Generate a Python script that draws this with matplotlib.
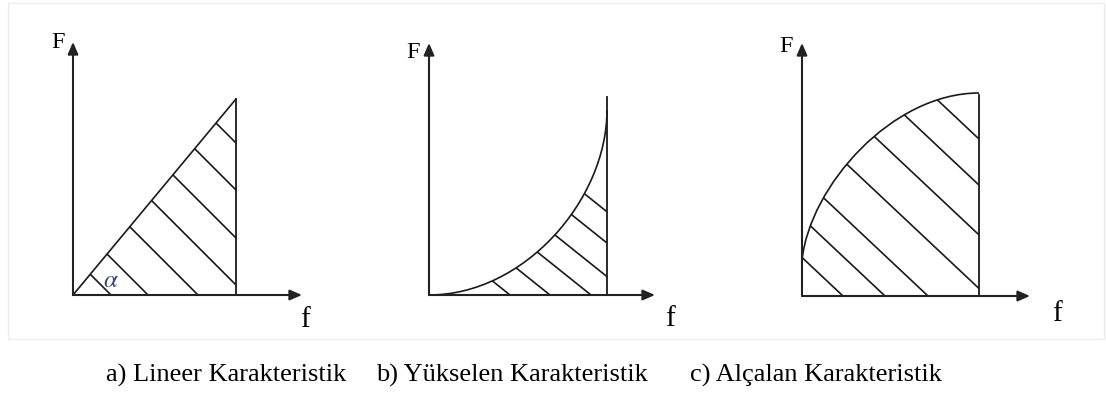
import numpy as np
import matplotlib.pyplot as plt
from matplotlib.patches import Rectangle, PathPatch
from matplotlib.path import Path

plt.rcParams['mathtext.fontset'] = 'stix'
SERIF = ['Liberation Serif', 'DejaVu Serif']

W, H = 1106, 394

# a) linear characteristic: straight line from origin to the top of the right edge
lin_x = [0, 163]
lin_y = [0, 196]
lin_hatch = [38, 75, 125, 173, 220, 268, 315]

# b) rising characteristic, cubic bezier control points
rise_x = [0, 95, 178, 178]
rise_y = [0, 0, 95, 185]
rise_top = 198
rise_hatch = [81, 121, 162, 201, 243, 282]

# c) falling characteristic, cubic bezier control points
fall_x = [0, 8, 90, 177]
fall_y = [36, 110, 203, 203]
fall_top = 201
fall_hatch = [41, 83, 126, 185, 242, 295, 344]

captions = ['a) Lineer Karakteristik', 'b) Yükselen Karakteristik', 'c) Alçalan Karakteristik']
caption_x = [106, 376, 690]

INK = '#1a1a1a'


def panel_axes(fig, ox, oy, left=-45, right=270, bottom=-50, top=270):
    # one data unit = one pixel, origin of the sketch at (ox, oy) in image pixels
    ax = fig.add_axes([(ox + left) / W, (H - (oy - bottom)) / H,
                       (right - left) / W, (top - bottom) / H])
    ax.set_xlim(left, right)
    ax.set_ylim(bottom, top)
    ax.axis('off')
    return ax


def draw_axes(ax, xlen, ylen, F_pos, f_pos):
    arrow = dict(arrowstyle='-|>,head_length=0.6,head_width=0.26', mutation_scale=12,
                 color='#222222', lw=1.5, shrinkA=0, shrinkB=0)
    ax.annotate('', xy=(xlen, 0), xytext=(0, 0), arrowprops=arrow)
    ax.annotate('', xy=(0, ylen), xytext=(0, 0), arrowprops=arrow)
    ax.text(*F_pos, 'F', fontsize=17.5, family=SERIF, ha='center', va='center')
    ax.text(*f_pos, 'f', fontsize=21, family=SERIF, ha='center', va='center')


def bezier(xs, ys):
    return Path(list(zip(xs, ys)), [Path.MOVETO, Path.CURVE4, Path.CURVE4, Path.CURVE4])


def hatch(ax, region_path, offsets, slope):
    clip = PathPatch(region_path, facecolor='none', edgecolor='none', transform=ax.transData)
    ax.add_patch(clip)
    for c in offsets:
        xs = np.array([c - 400, c])
        ys = slope * (c - xs)
        ln, = ax.plot(xs, ys, color=INK, lw=1.2)
        ln.set_clip_path(clip)


fig = plt.figure(figsize=(W / 100, H / 100), dpi=100)

# faint frame around the drawings
frame = fig.add_axes([0, 0, 1, 1])
frame.set_xlim(0, W)
frame.set_ylim(H, 0)
frame.axis('off')
frame.add_patch(Rectangle((8, 3), 1096, 336, fill=False, edgecolor='#ececec', lw=1))

# a)
ax = panel_axes(fig, 73, 295)
draw_axes(ax, 229, 253, (-15, 252), (232, -25))
ax.plot(lin_x, lin_y, color=INK, lw=1.2)
ax.plot([lin_x[-1], lin_x[-1]], [0, lin_y[-1]], color=INK, lw=1.3)
tri = Path(list(zip(lin_x, lin_y)) + [(lin_x[-1], 0), (0, 0)],
           [Path.MOVETO, Path.LINETO, Path.LINETO, Path.CLOSEPOLY])
hatch(ax, tri, lin_hatch, 1.0)
ax.text(38, 15, r'$\alpha$', fontsize=18, color='#34456a', ha='center', va='center')

# b)
ax = panel_axes(fig, 429, 295)
draw_axes(ax, 226, 252, (-16, 243), (241, -24))
ax.add_patch(PathPatch(bezier(rise_x, rise_y), facecolor='none', edgecolor=INK, lw=1.2))
ax.plot([rise_x[-1], rise_x[-1]], [0, rise_top], color=INK, lw=1.3)
region = Path(list(zip(rise_x, rise_y)) + [(rise_x[-1], 0), (0, 0)],
              [Path.MOVETO, Path.CURVE4, Path.CURVE4, Path.CURVE4, Path.LINETO, Path.CLOSEPOLY])
hatch(ax, region, rise_hatch, 0.8)

# c)
ax = panel_axes(fig, 802, 296)
draw_axes(ax, 228, 253, (-16, 249), (255, -18))
ax.add_patch(PathPatch(bezier(fall_x, fall_y), facecolor='none', edgecolor=INK, lw=1.2))
ax.plot([fall_x[-1], fall_x[-1]], [0, fall_top], color=INK, lw=1.3)
region = Path([(0, 0)] + list(zip(fall_x, fall_y)) + [(fall_x[-1], 0), (0, 0)],
              [Path.MOVETO, Path.LINETO, Path.CURVE4, Path.CURVE4, Path.CURVE4,
               Path.LINETO, Path.CLOSEPOLY])
hatch(ax, region, fall_hatch, 0.94)

for text, x in zip(captions, caption_x):
    fig.text(x / W, (H - 382) / H, text, fontsize=19, family=SERIF, va='baseline')

fig.savefig('out.png', dpi=100, facecolor='white')
